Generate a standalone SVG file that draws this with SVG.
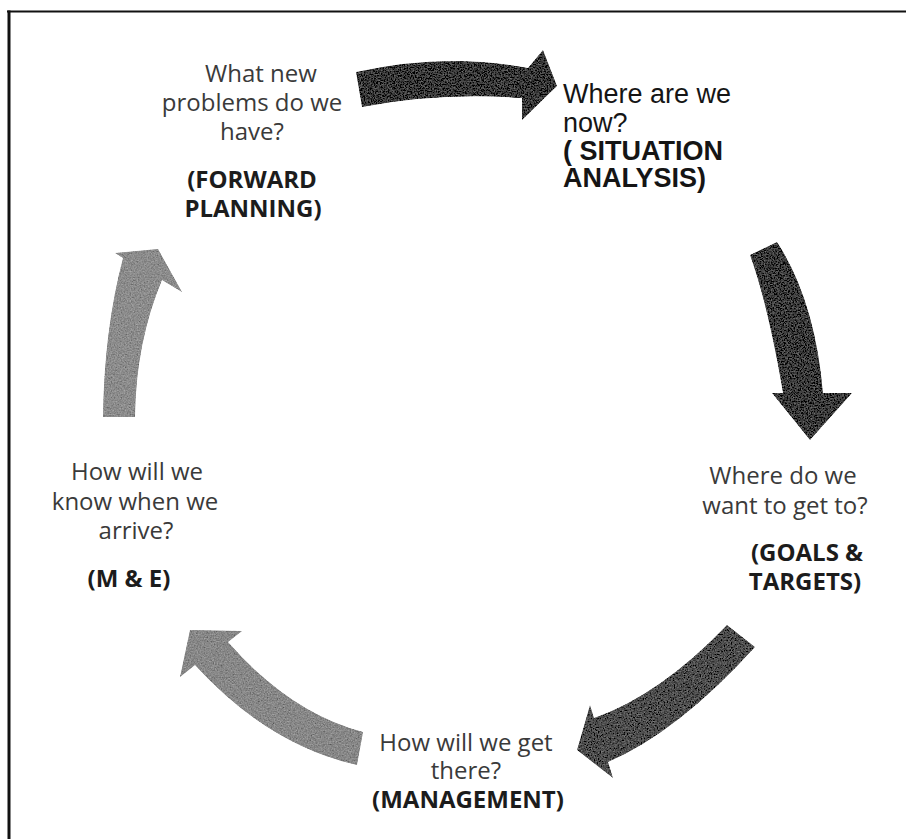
<svg xmlns="http://www.w3.org/2000/svg" width="906" height="839" viewBox="0 0 906 839">
<style>
.t{font-family:"Open Sans","Liberation Sans",sans-serif;font-size:24px;fill:#3a3a3a;text-anchor:middle}
.b{font-weight:bold;fill:#1c1c1c}
.a{font-family:"Liberation Sans",Arial,sans-serif;font-size:27px;fill:#151515}
.ab{font-weight:bold}
.arrow{filter:url(#tex)}
</style>
<defs>
<filter id="tex" x="-10%" y="-10%" width="120%" height="120%">
<feTurbulence type="fractalNoise" baseFrequency="0.7" numOctaves="2" seed="4" result="n"/>
<feColorMatrix in="n" type="matrix" values="0.33 0.33 0.33 0 0  0.33 0.33 0.33 0 0  0.33 0.33 0.33 0 0  0 0 0 0 1" result="g"/>
<feComposite in="SourceGraphic" in2="g" operator="arithmetic" k1="0" k2="1" k3="0.6" k4="-0.3" result="m"/>
<feComposite in="m" in2="SourceGraphic" operator="in"/>
</filter>
</defs>
<rect width="906" height="839" fill="#ffffff"/>
<g id="frame">
<line x1="7" y1="11.5" x2="906" y2="11.5" stroke="#111" stroke-width="2"/>
<line x1="9" y1="10.5" x2="9" y2="839" stroke="#111" stroke-width="3"/>
</g>
<g id="connectors">
<path class="arrow" fill="#3a3a3a" d="M356,72 Q445,52 528,68 L543,50 L557,86 L522,120 L522,98 Q440,92 362,107 Z"/>
<path class="arrow" fill="#3c3c3c" d="M750,255 L777,242 Q815,300 823,393 L852,393 L810,440 L772,393 L783,393 Q768,305 750,255 Z"/>
<path class="arrow" fill="#4e4e4e" d="M727,625 L755,647 Q678,732 608,762 L613,778 L577,750 L590,705 L594,718 Q660,695 727,625 Z"/>
<path class="arrow" fill="#888888" d="M363,732 L357,765 Q268,745 195,665 L180,677 L190,630 L242,631 L228,642 Q290,713 363,732 Z"/>
<path class="arrow" fill="#8c8c8c" d="M103,417 L135,417 Q136,342 162,280 L182,292 L158,249 L115,253 L123,258 Q104,330 103,417 Z"/>
</g>
<g id="node-forward-planning">
<text class="t" x="261" y="82">What new</text>
<text class="t" x="252" y="111">problems do we</text>
<text class="t" x="252" y="140">have?</text>
<text class="t b" x="252" y="188">(FORWARD</text>
<text class="t b" x="253" y="217">PLANNING)</text>
</g>
<g id="node-situation-analysis">
<text class="a" x="563" y="103">Where are we</text>
<text class="a" x="563" y="132">now?</text>
<text class="a ab" x="563" y="160">( SITUATION</text>
<text class="a ab" x="563" y="187">ANALYSIS)</text>
</g>
<g id="node-goals-targets">
<text class="t" x="783" y="484">Where do we</text>
<text class="t" x="785" y="514">want to get to?</text>
<text class="t b" x="807" y="561">(GOALS &amp;</text>
<text class="t b" x="805" y="590">TARGETS)</text>
</g>
<g id="node-management">
<text class="t" x="466" y="751">How will we get</text>
<text class="t" x="466" y="779">there?</text>
<text class="t b" x="468" y="808">(MANAGEMENT)</text>
</g>
<g id="node-me">
<text class="t" x="137" y="480">How will we</text>
<text class="t" x="135" y="510">know when we</text>
<text class="t" x="136" y="539">arrive?</text>
<text class="t b" x="129" y="587">(M &amp; E)</text>
</g>
</svg>
